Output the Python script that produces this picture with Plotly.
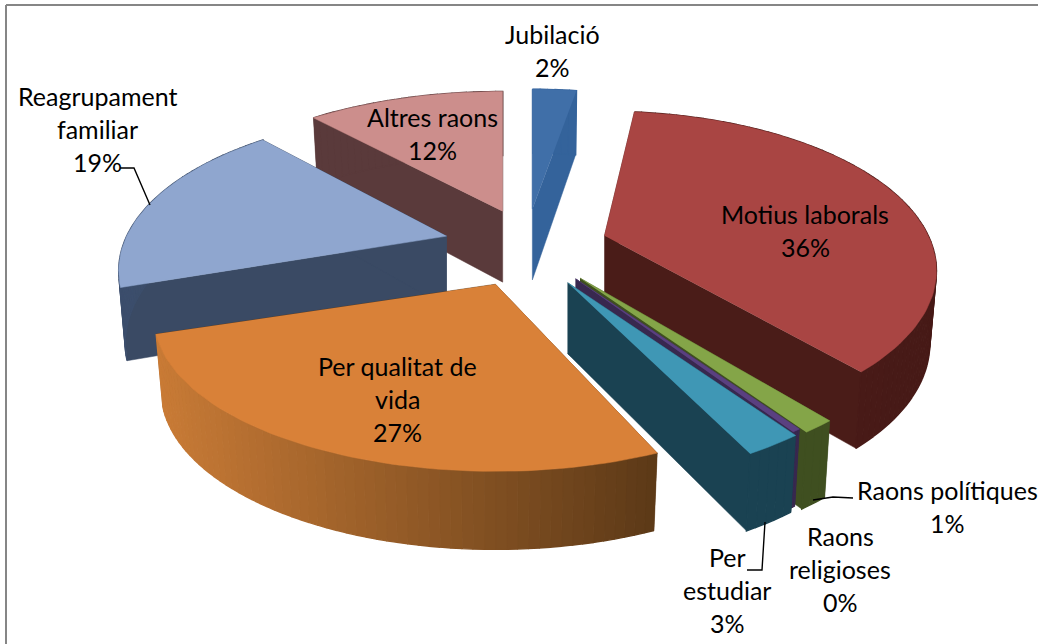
import math
import plotly.graph_objects as go

categories = ["Jubilació", "Motius laborals", "Raons polítiques", "Raons religioses",
              "Per estudiar", "Per qualitat de vida", "Reagrupament familiar", "Altres raons"]
values = [2.49, 35.81, 1.4, 0.35, 3.2, 26.6, 18.5, 11.65]
explode = [0.27, 0.25, 0.24, 0.235, 0.225, 0.27, 0.27, 0.27]
width_scale = [1.0, 1.012, 1.02, 1.0, 1.0, 1.04, 1.0, 1.03]
height_scale = [1.0, 1.04, 1.05, 1.03, 1.06, 1.0, 1.03, 1.0]
start_adjust_deg = [0, -2.5, 2.7, 2.1, 0, 1.5, 0, 0]
end_adjust_deg = [0.7, 0.7, 2.5, 2.1, -3, 0, 0, 0]
nudge_x = [-3, 0, 0, 0, 1, 3, 0, 3]
nudge_y = [0, 0, 4, 4, 7, 0, 0, 0]
label_lines = [["Jubilació", "2%"], ["Motius laborals", "36%"], ["Raons polítiques", "1%"],
               ["Raons", "religioses", "0%"], ["Per", "estudiar", "3%"],
               ["Per qualitat de", "vida", "27%"], ["Reagrupament", "familiar", "19%"],
               ["Altres raons", "12%"]]
label_x = [552, 805, 947, 840, 727, 397, 97, 432]
label_y = [34, 214, 490, 536, 557, 366, 96, 117]
top_colors = ["#406fa8", "#a94543", "#84a548", "#5a4080", "#3f97b5", "#d98138", "#8fa6cf", "#cc8e8c"]
side_colors = ["#34639b", "#4a1c18", "#3f4f20", "#38284f", "#1a4252", "#5f3a18", "#3a4a64", "#5a3a3b"]
arc_left = ["#34639b", "#4a1c18", "#3f4f20", "#38284f", "#1a4252", "#c97b36", "#3c4e6c", "#5a3a3b"]
arc_right = ["#34639b", "#471a17", "#3f4f20", "#38284f", "#1a4252", "#5c3917", "#3a4a64", "#5a3a3b"]
draw_order = [0, 7, 6, 1, 2, 3, 4, 5]

CX, CY, RX, RY, K, DEPTH, DEPTH_TILT, SHRINK = 529, 246, 320, 146, 0.22, 71, 7, 0.98


def project(px, py, ax, ay, wscale, hscale, low=False):
    s = 1 / (1 + K * py)
    x = RX * wscale * px * s
    y = -RY * hscale * py * s
    if low:
        x = x * SHRINK
        y = y + DEPTH - DEPTH_TILT * py
    return ax + x, ay + y


def hex2rgb(h):
    return [int(h[i:i + 2], 16) for i in (1, 3, 5)]


def mix(a, b, t):
    ca, cb = hex2rgb(a), hex2rgb(b)
    return "rgb(%d,%d,%d)" % tuple(round(u + (v - u) * t) for u, v in zip(ca, cb))


total = sum(values)
spans = []
acc = 0.0
for v in values:
    spans.append((acc, acc + v))
    acc += v

fig = go.Figure()


def poly(pts, color, name, width=1.4):
    fig.add_trace(go.Scatter(x=[p[0] for p in pts], y=[p[1] for p in pts], mode="lines",
                             fill="toself", fillcolor=color, line=dict(color=color, width=width),
                             hoverinfo="skip", name=name, showlegend=False))


for i in draw_order:
    a0 = spans[i][0] / total * 2 * math.pi
    a1 = spans[i][1] / total * 2 * math.pi
    mid = (a0 + a1) / 2
    e_x, e_y = explode[i] * math.sin(mid), explode[i] * math.cos(mid)
    s0 = 1 / (1 + K * e_y)
    ax, ay = CX + RX * e_x * s0 + nudge_x[i], CY - RY * e_y * s0 + nudge_y[i]
    a0 += math.radians(start_adjust_deg[i])
    a1 += math.radians(end_adjust_deg[i])
    n = max(3, int(abs(a1 - a0) / math.radians(1.5)))
    angles = [a0 + (a1 - a0) * j / n for j in range(n + 1)]
    rim = [(math.sin(a), math.cos(a)) for a in angles]
    name = categories[i]

    def P(p, low=False):
        return project(p[0], p[1], ax, ay, width_scale[i], height_scale[i], low)

    centre = (0.0, 0.0)
    for edge in (rim[0], rim[-1]):
        poly([P(centre), P(edge), P(edge, True), P(centre, True)], side_colors[i], name, 0.5)
    xs = [P(p)[0] for p in rim]
    xmin, xmax = min(xs), max(xs)
    for j in range(n):
        p, q = rim[j], rim[j + 1]
        t = ((P(p)[0] + P(q)[0]) / 2 - xmin) / max(xmax - xmin, 1)
        poly([P(p), P(q), P(q, True), P(p, True)], mix(arc_left[i], arc_right[i], t), name)
    poly([P(centre)] + [P(p) for p in rim], top_colors[i], name, 0.5)

annotations = []
for lines, lx, ly in zip(label_lines, label_x, label_y):
    for k, line in enumerate(lines):
        annotations.append(dict(x=lx, y=ly + k * 33, text=line, showarrow=False, xref="x", yref="y",
                                xanchor="center", yanchor="middle",
                                font=dict(family="Lato", size=25, color="#000000")))

leaders = [[(120, 168), (134, 168), (150, 205)],
           [(813, 500), (833, 497), (853, 498)],
           [(747, 570), (762, 570), (765, 522)]]
shapes = [dict(type="path", xref="x", yref="y",
               path="M" + " L".join(f"{a},{b}" for a, b in l),
               line=dict(color="#000000", width=1.4)) for l in leaders]
shapes += [dict(type="line", xref="x", yref="y", x0=6, y0=5, x1=6, y1=644, line=dict(color="#868686", width=2)),
           dict(type="line", xref="x", yref="y", x0=6, y0=5, x1=1038, y1=5, line=dict(color="#868686", width=2))]

fig.update_layout(width=1038, height=644, margin=dict(l=0, r=0, t=0, b=0),
                  paper_bgcolor="#ffffff", plot_bgcolor="#ffffff", showlegend=False,
                  xaxis=dict(range=[0, 1038], visible=False, fixedrange=True),
                  yaxis=dict(range=[644, 0], visible=False, fixedrange=True),
                  annotations=annotations, shapes=shapes)
fig.write_html("out.html", config={"displayModeBar": False},
               post_script="document.body.style.margin='0';document.body.style.overflow='hidden';")
